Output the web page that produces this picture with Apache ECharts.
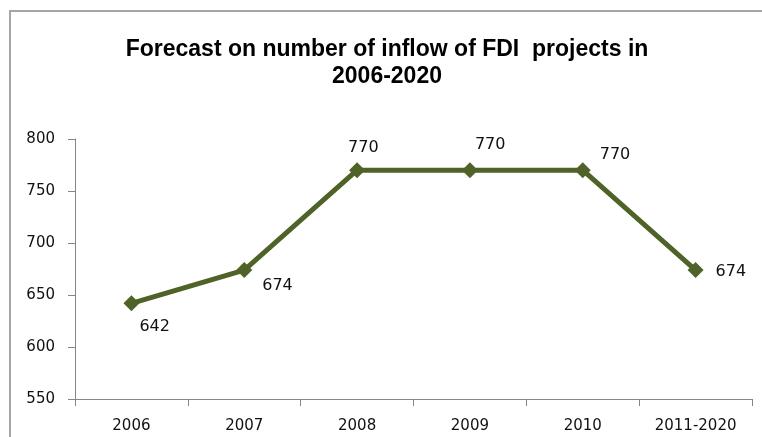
<!DOCTYPE html>
<html>
<head>
<meta charset="utf-8">
<script src="https://cdn.jsdelivr.net/npm/echarts@6/dist/echarts.min.js"></script>
<style>
  html, body { margin: 0; padding: 0; background: #fff; }
  #frame { position: absolute; left: 9px; top: 10px; width: 800px; height: 480px;
           border: 2px solid #a6a6a6; box-sizing: border-box; }
  #chart { position: absolute; left: 0; top: 0; width: 762px; height: 437px; }
</style>
</head>
<body>
<div id="frame"></div>
<div id="chart"></div>
<script>
// Categories and forecast values
const categories = ['2006', '2007', '2008', '2009', '2010', '2011-2020'];
const projects = [642, 674, 770, 770, 770, 674];
const yTicks = { min: 550, max: 800, step: 50 };
const titleText = 'Forecast on number of inflow of FDI  projects in\n2006-2020';

// Label placement around each marker
const labelOffsets = [[-10, 24], [0, 16], [-27, -22], [-13, -25], [-1, -15], [2, 2]];

const lineColor = '#4f6228';
const axisColor = '#868686';
const textFont = 'DejaVu Sans';

const chart = echarts.init(document.getElementById('chart'), null, { renderer: 'canvas' });
chart.setOption({
  animation: false,
  title: {
    text: titleText,
    left: 382,
    textAlign: 'center',
    top: 31,
    textStyle: { fontFamily: 'Liberation Sans', fontWeight: 'bold', fontSize: 23, color: '#000', lineHeight: 27 }
  },
  grid: { left: 75, right: 10, top: 139, bottom: 38, containLabel: false },
  xAxis: {
    type: 'category',
    data: categories,
    boundaryGap: true,
    axisLine: { lineStyle: { color: axisColor, width: 1 } },
    axisTick: { show: true, length: 7, alignWithLabel: false, lineStyle: { color: axisColor } },
    axisLabel: { color: '#111', fontFamily: textFont, fontSize: 15, margin: 20 },
    splitLine: { show: false }
  },
  yAxis: {
    type: 'value',
    min: yTicks.min,
    max: yTicks.max,
    interval: yTicks.step,
    axisLine: { show: true, lineStyle: { color: axisColor, width: 1 } },
    axisTick: { show: true, length: 7, lineStyle: { color: axisColor } },
    axisLabel: { color: '#111', fontFamily: textFont, fontSize: 15, margin: 20 },
    splitLine: { show: false }
  },
  series: [{
    type: 'line',
    data: projects.map((v, i) => ({
      value: v,
      label: { offset: labelOffsets[i] }
    })),
    symbol: 'diamond',
    symbolSize: 16,
    lineStyle: { color: lineColor, width: 5 },
    itemStyle: { color: lineColor },
    label: {
      show: true,
      position: 'right',
      distance: 10,
      color: '#111',
      fontFamily: textFont,
      fontSize: 16
    }
  }]
});
</script>
</body>
</html>
